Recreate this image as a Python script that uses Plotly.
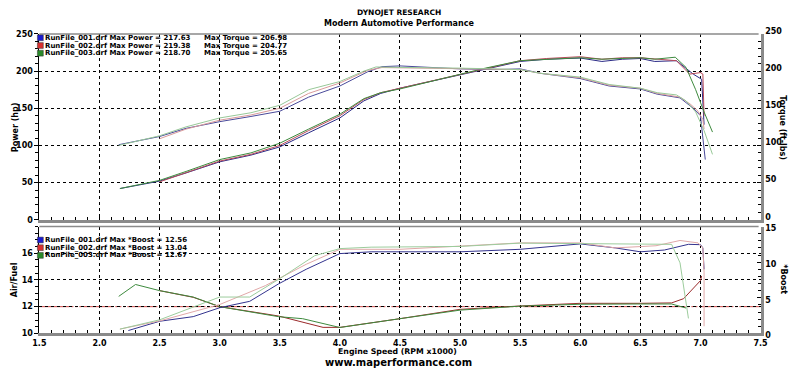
import plotly.graph_objects as go

W, H = 798, 376

# ---------------- data ----------------
run_names = ["RunFile_001.drf", "RunFile_002.drf", "RunFile_003.drf"]
max_power = ["217.63", "219.38", "218.70"]
max_torque = ["206.98", "204.77", "205.65"]
max_boost = ["12.56", "13.04", "12.67"]

rpm_pow_1 = [2.17, 2.5, 2.72, 3.0, 3.26, 3.5, 3.74, 4.0, 4.2, 4.34, 4.5, 4.75, 5.0, 5.21, 5.5, 5.72, 6.0, 6.18, 6.35, 6.5, 6.62, 6.8, 6.94, 7.01, 7.02, 7.03]
power_1 = [42, 52, 63, 78, 87, 98, 117, 137, 160, 170, 177, 186, 194, 202, 213, 216, 217.6, 213, 216, 217, 213, 214, 196, 189, 150, 128]
rpm_pow_2 = [2.5, 2.72, 3.0, 3.26, 3.5, 3.74, 4.0, 4.2, 4.34, 4.5, 4.75, 5.0, 5.21, 5.5, 5.72, 6.0, 6.18, 6.35, 6.5, 6.62, 6.8, 6.91, 7.0, 7.02, 7.03]
power_2 = [51, 63, 79, 88, 100, 120, 140, 162, 171, 177, 186, 195, 203, 214, 217, 219.4, 216, 218, 218, 216, 214, 196, 198, 196, 140]
rpm_pow_3 = [2.17, 2.5, 2.72, 3.0, 3.26, 3.5, 3.74, 4.0, 4.2, 4.34, 4.5, 4.75, 5.0, 5.21, 5.5, 5.72, 6.0, 6.18, 6.35, 6.5, 6.62, 6.79, 6.88, 6.96, 7.03, 7.1]
power_3 = [42, 53, 65, 81, 90, 103, 122, 142, 163, 171, 176, 186, 196, 204, 214, 216, 218, 216, 217, 218, 216, 218.7, 205, 175, 145, 118]

rpm_tq_1 = [2.16, 2.5, 2.72, 3.0, 3.26, 3.5, 3.74, 4.0, 4.23, 4.35, 4.5, 4.75, 5.0, 5.29, 5.5, 5.67, 6.0, 6.24, 6.5, 6.64, 6.83, 6.94, 7.0, 7.02, 7.04]
torque_1 = [101, 112, 123, 132, 139, 146, 165, 180, 199, 206, 207, 205, 203, 202, 203, 197, 190, 180, 176, 169, 164, 150, 140, 110, 81]
rpm_tq_2 = [2.5, 2.72, 3.0, 3.26, 3.5, 3.74, 4.0, 4.23, 4.35, 4.5, 4.75, 5.0, 5.29, 5.5, 5.67, 6.0, 6.24, 6.5, 6.64, 6.83, 6.92, 6.98, 7.02, 7.03]
torque_2 = [109, 122, 134, 141, 150, 170, 184, 201, 204.8, 204.5, 204, 203, 203, 202, 197, 191, 181, 177, 170, 165, 155, 146, 135, 122]
rpm_tq_3 = [2.16, 2.5, 2.72, 3.0, 3.26, 3.5, 3.74, 4.0, 4.2, 4.3, 4.5, 4.75, 5.0, 5.29, 5.5, 5.67, 6.0, 6.24, 6.5, 6.64, 6.8, 6.88, 6.96, 7.03, 7.1]
torque_3 = [100, 113, 125, 137, 144, 154, 175, 186, 200, 205.6, 205, 204, 204, 203, 202, 197, 192, 182, 177, 171, 168, 160, 145, 120, 88]

rpm_boost_1 = [2.24, 2.5, 2.78, 3.0, 3.25, 3.49, 3.72, 4.0, 4.26, 4.5, 5.0, 5.5, 6.0, 6.29, 6.5, 6.7, 6.9, 7.0, 7.02, 7.03]
boost_1 = [0.4, 1.7, 2.35, 3.6, 4.5, 6.95, 9.0, 11.2, 11.45, 11.45, 11.45, 11.8, 12.56, 12.0, 11.45, 11.7, 12.5, 12.45, 12.0, 9.0]
rpm_boost_2 = [2.17, 2.5, 3.0, 3.38, 3.72, 4.0, 4.5, 5.0, 5.5, 6.0, 6.29, 6.63, 6.83, 6.98, 7.02, 7.03, 7.03]
boost_2 = [0.6, 1.75, 4.05, 6.7, 9.7, 11.8, 11.8, 12.2, 12.7, 12.7, 12.0, 12.3, 13.04, 12.7, 12.0, 8.6, 1.0]
rpm_boost_3 = [2.17, 2.5, 3.0, 3.25, 3.52, 3.79, 4.0, 4.26, 5.0, 5.5, 6.0, 6.5, 6.76, 6.83, 6.9]
boost_3 = [0.6, 1.9, 5.1, 5.1, 7.9, 10.9, 11.9, 12.1, 12.2, 12.67, 12.6, 12.5, 12.5, 9.9, 2.1]

rpm_afr_2 = [2.5, 2.78, 3.0, 3.49, 3.86, 4.0, 4.5, 5.0, 5.5, 6.0, 6.5, 6.76, 6.86, 7.0, 7.01]
afr_2 = [13.2, 12.7, 12.0, 11.3, 10.45, 10.45, 11.1, 11.8, 12.05, 12.25, 12.25, 12.28, 12.6, 13.95, 14.3]
rpm_afr_3 = [2.16, 2.3, 2.5, 2.78, 3.0, 3.49, 3.69, 4.0, 4.5, 5.0, 5.5, 6.0, 6.5, 6.76, 6.88]
afr_3 = [12.77, 13.66, 13.2, 12.72, 12.0, 11.25, 11.1, 10.44, 11.1, 11.74, 12.04, 12.18, 12.2, 12.2, 11.9]

afr_reference = 12.0

x_ticks = [1.5, 2.0, 2.5, 3.0, 3.5, 4.0, 4.5, 5.0, 5.5, 6.0, 6.5, 7.0, 7.5]
power_ticks = [0, 50, 100, 150, 200, 250]
afr_ticks = [10, 12, 14, 16]
boost_ticks = [0, 5, 10, 15]

# ---------------- style ----------------
pow_colors = ["#2a2a86", "#b84a5a", "#3e8a3e"]
tq_colors = ["#4a4a9a", "#d89a9a", "#98c898"]
boost_colors = ["#33338e", "#e0a8a8", "#9ccc9c"]
afr_colors = ["#9a2a2a", "#3e8a3e"]
legend_colors = ["#1a1ad0", "#d83030", "#2a8a2a"]

FONT = "DejaVu Sans"
tickfont = dict(family=FONT, size=8, color="#000", weight="bold")

def px_x(p):
    return p / W

def px_y(p):
    return 1 - p / H

x_dom = [px_x(33), px_x(768)]
top_dom = [px_y(221), px_y(28)]
bot_dom = [px_y(339), px_y(228)]

fig = go.Figure()

for rp, v, c in [(rpm_pow_1, power_1, pow_colors[0]), (rpm_pow_2, power_2, pow_colors[1]), (rpm_pow_3, power_3, pow_colors[2])]:
    fig.add_trace(go.Scatter(x=rp, y=v, mode="lines", line=dict(color=c, width=1), xaxis="x", yaxis="y", showlegend=False))
for rp, v, c in [(rpm_tq_1, torque_1, tq_colors[0]), (rpm_tq_2, torque_2, tq_colors[1]), (rpm_tq_3, torque_3, tq_colors[2])]:
    fig.add_trace(go.Scatter(x=rp, y=v, mode="lines", line=dict(color=c, width=1), xaxis="x", yaxis="y2", showlegend=False))
for rp, v, c in [(rpm_boost_1, boost_1, boost_colors[0]), (rpm_boost_2, boost_2, boost_colors[1]), (rpm_boost_3, boost_3, boost_colors[2])]:
    fig.add_trace(go.Scatter(x=rp, y=v, mode="lines", line=dict(color=c, width=1), xaxis="x2", yaxis="y4", showlegend=False))
for rp, v, c in [(rpm_afr_2, afr_2, afr_colors[0]), (rpm_afr_3, afr_3, afr_colors[1])]:
    fig.add_trace(go.Scatter(x=rp, y=v, mode="lines", line=dict(color=c, width=1), xaxis="x2", yaxis="y3", showlegend=False))

axis_gray = "#8a8a8a"
grid = dict(showgrid=True, gridcolor="#000", gridwidth=1, griddash="dot")

fig.update_layout(
    width=W, height=H,
    margin=dict(l=0, r=0, t=0, b=0),
    paper_bgcolor="white", plot_bgcolor="white",
    xaxis=dict(domain=x_dom, range=[1.5, 7.5], anchor="y", tickvals=x_ticks, showticklabels=False,
               showline=True, linecolor=axis_gray, linewidth=3, ticks="inside", ticklen=4, tickcolor="#000",
               minor=dict(dtick=0.1, ticks="inside", ticklen=3, tickcolor="#000"),
               zeroline=False, **grid),
    xaxis2=dict(domain=x_dom, range=[1.5, 7.5], anchor="y3", tickvals=x_ticks, tickformat=".1f",
                showline=True, linecolor=axis_gray, linewidth=3, ticks="inside", ticklen=4, tickcolor="#000",
                minor=dict(dtick=0.1, ticks="inside", ticklen=3, tickcolor="#000"),
                tickfont=tickfont, zeroline=False, **grid),
    yaxis=dict(domain=top_dom, range=[0, 250], anchor="x", tickvals=power_ticks, tickfont=tickfont,
               showline=True, linecolor="#000", linewidth=1, ticks="outside", ticklen=4, tickcolor="#000",
               minor=dict(dtick=10, ticks="outside", ticklen=3, tickcolor="#000"),
               zeroline=False, **grid),
    yaxis2=dict(range=[0, 250], overlaying="y", side="right", anchor="x", tickvals=power_ticks, tickfont=tickfont,
                showline=True, linecolor=axis_gray, linewidth=3, ticks="inside", ticklen=4, tickcolor="#000",
                minor=dict(dtick=10, ticks="inside", ticklen=3, tickcolor="#000"),
                ticklabelshift=-3,
                showgrid=False, zeroline=False),
    yaxis3=dict(domain=bot_dom, range=[10, 18], anchor="x2", tickvals=afr_ticks, tickfont=tickfont,
                showline=True, linecolor="#000", linewidth=1, ticks="outside", ticklen=4, tickcolor="#000",
                minor=dict(dtick=0.5, ticks="outside", ticklen=3, tickcolor="#000"),
                zeroline=False, **grid),
    yaxis4=dict(range=[0, 15], overlaying="y3", side="right", anchor="x2", tickvals=boost_ticks, tickfont=tickfont,
                showline=True, linecolor=axis_gray, linewidth=3, ticks="inside", ticklen=4, tickcolor="#000",
                minor=dict(dtick=1, ticks="inside", ticklen=3, tickcolor="#000"),
                ticklabelshift=2,
                showgrid=False, zeroline=False),
)

# AFR reference line
fig.add_shape(type="line", xref="x2", yref="y3", x0=1.5, x1=7.5, y0=afr_reference, y1=afr_reference,
              line=dict(color="#d04848", width=1, dash="30px,2px,2px,2px,2px,2px,2px,2px"), layer="below")

# top frame lines
for ytop in [28, 228]:
    fig.add_shape(type="line", xref="paper", yref="paper", x0=px_x(33), x1=px_x(766), y0=px_y(ytop), y1=px_y(ytop),
                  line=dict(color=axis_gray, width=1.5))

def ann(text, x, y, size=8, anchor="center", angle=0, yanchor="middle"):
    fig.add_annotation(text=text, x=px_x(x), y=px_y(y), xref="paper", yref="paper", showarrow=False,
                       xanchor=anchor, yanchor=yanchor, textangle=angle, borderpad=0,
                       font=dict(family=FONT, size=size, color="#000", weight="bold"))

ann("DYNOJET RESEARCH", 400, 6, size=7.5)
ann("Modern Automotive Performance", 400, 17, size=8)
ann("Engine Speed (RPM x1000)", 398, 358, size=7.8)
ann("www.maperformance.com", 399, 369.5, size=10)
ann("Power (hp)", 8, 125, size=8, angle=-90)
ann("Torque (ft-lbs)", 791, 125, size=8, angle=90)
ann("Air/Fuel", 8, 283, size=8, angle=-90)
ann("*Boost", 791, 283, size=8, angle=90)

for i in range(3):
    yy = 32 + 8 * i
    fig.add_shape(type="rect", xref="paper", yref="paper", x0=px_x(31), x1=px_x(37), y0=px_y(yy + 3), y1=px_y(yy - 3),
                  fillcolor=legend_colors[i], line=dict(color="#333", width=0.5))
    ann(f"{run_names[i]} Max Power = {max_power[i]}", 38, yy, size=7, anchor="left")
    ann(f"Max Torque = {max_torque[i]}", 200, yy, size=7, anchor="left")
    yb = 242 + 8 * i
    fig.add_shape(type="rect", xref="paper", yref="paper", x0=px_x(31), x1=px_x(37), y0=px_y(yb + 3), y1=px_y(yb - 3),
                  fillcolor=legend_colors[i], line=dict(color="#333", width=0.5))
    ann(f"{run_names[i]} Max *Boost = {max_boost[i]}", 38, yb, size=7, anchor="left")

fig.write_html("out.html", config={"displayModeBar": False},
               post_script="document.body.style.margin='0';")
